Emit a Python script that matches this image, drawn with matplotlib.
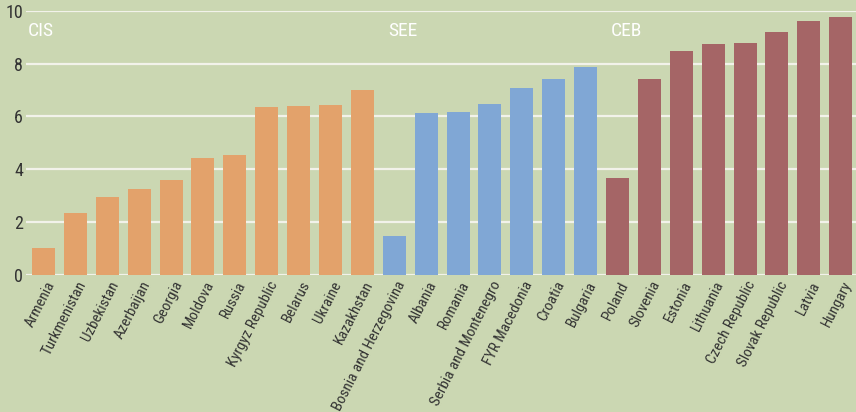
import matplotlib.pyplot as plt
from matplotlib import font_manager

# Data
countries = ['Armenia', 'Turkmenistan', 'Uzbekistan', 'Azerbaijan', 'Georgia', 'Moldova',
             'Russia', 'Kyrgyz Republic', 'Belarus', 'Ukraine', 'Kazakhstan',
             'Bosnia and Herzegovina', 'Albania', 'Romania', 'Serbia and Montenegro',
             'FYR Macedonia', 'Croatia', 'Bulgaria',
             'Poland', 'Slovenia', 'Estonia', 'Lithuania', 'Czech Republic',
             'Slovak Republic', 'Latvia', 'Hungary']
values = [1.0, 2.32, 2.95, 3.26, 3.6, 4.43, 4.55, 6.36, 6.39, 6.44, 7.0,
          1.47, 6.12, 6.18, 6.48, 7.08, 7.43, 7.88,
          3.65, 7.42, 8.5, 8.73, 8.8, 9.22, 9.63, 9.76]
regions = ['CIS'] * 11 + ['SEE'] * 7 + ['CEB'] * 8
region_colors = {'CIS': '#E3A26B', 'SEE': '#80A7D5', 'CEB': '#A56566'}

bg = '#CBD7B2'
names = {f.name for f in font_manager.fontManager.ttflist}
wanted = ['Roboto Condensed', 'Archivo Narrow', 'Fira Sans Condensed',
          'IBM Plex Sans Condensed', 'Encode Sans Condensed', 'PT Sans Narrow',
          'Pragati Narrow', 'Liberation Sans Narrow', 'Open Sans Condensed']
fam = next((f for f in wanted if f in names), 'DejaVu Sans')
plt.rcParams['font.family'] = [fam, 'DejaVu Sans']

fig = plt.figure(figsize=(8.56, 4.12), dpi=100, facecolor=bg)
ax = fig.add_axes([26 / 856, 1 - 274.5 / 412, 1 - 26 / 856, (274.5 - 11) / 412])
ax.set_facecolor(bg)

x = list(range(len(countries)))
ax.bar(x, values, width=0.72, color=[region_colors[r] for r in regions], zorder=3)

ax.set_ylim(0, 10)
ax.set_xlim(-0.55, 25.48)
ax.set_yticks([0, 2, 4, 6, 8, 10])
ax.yaxis.grid(True, color='#F2F2EA', linewidth=1.6, zorder=0)
ax.set_axisbelow(True)
for s in ax.spines.values():
    s.set_visible(False)
ax.tick_params(axis='both', length=0, colors='#333333')
ax.tick_params(axis='y', labelsize=13, pad=2)

ax.set_xticks([i + 0.04 for i in x])
ax.set_xticklabels(countries, rotation=63, ha='right', va='top',
                   rotation_mode='anchor', fontsize=10.8)
ax.tick_params(axis='x', pad=3)

# Region labels
first = {}
for i, r in enumerate(regions):
    first.setdefault(r, i)
for r, i in first.items():
    ax.text(i - 0.48 if i == 0 else i - 0.2, 9.25, r, color='white', fontsize=14,
            ha='left', va='center')

fig.savefig('out.png', dpi=100, facecolor=bg)
